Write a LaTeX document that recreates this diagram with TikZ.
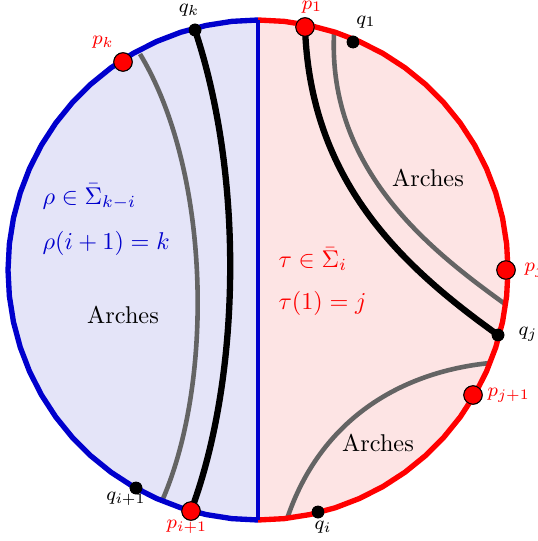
\documentclass[tikz,border=0pt]{standalone}
\usepackage{amsmath,amssymb}
\definecolor{myblue}{RGB}{0,0,205}
\definecolor{myred}{RGB}{255,0,0}
\definecolor{lblue}{RGB}{228,228,248}
\definecolor{lred}{RGB}{253,228,228}
\definecolor{mygray}{RGB}{100,100,100}
\begin{document}
\begin{tikzpicture}[x=0.4125pt,y=-0.4125pt,
  rim/.style={line width=2.2pt,line join=round},
  blackarc/.style={line width=2.6pt,black},
  grayarc/.style={line width=1.9pt,mygray},
  qdot/.style={circle,fill=black,inner sep=0pt,minimum size=5.2pt},
  pdot/.style={circle,fill=myred,draw=black,line width=0.4pt,inner sep=0pt,minimum size=7.6pt},
  plab/.style={text=myred,font=\footnotesize},
  qlab/.style={text=black,font=\footnotesize},
  arches/.style={font=\normalsize}]
\useasboundingbox (0,0) rectangle (537,541);
% fills
\fill[lblue] plot[domain=90:270,samples=31] ({258+250*cos(\x)},{270-250*sin(\x)}) -- cycle;
\fill[lred] plot[domain=-90:90,samples=31] ({258+250*cos(\x)},{270-250*sin(\x)}) -- cycle;
% points
\coordinate (top) at (258,20);
\coordinate (bot) at (258,520);
\node[pdot] (pk) at (123,62) {};
\node[qdot] (qk) at (195,30) {};
\node[pdot] (p1) at (305,27) {};
\node[qdot] (q1) at (353,42) {};
\node[pdot] (pj) at (506,270) {};
\node[qdot] (qj) at (498,335) {};
\node[pdot] (pj1) at (473,395) {};
\node[qdot] (qi) at (318,512) {};
\node[pdot] (pi1) at (191,511) {};
\node[qdot] (qi1) at (136,488) {};
\coordinate (g1a) at (140,54);
\coordinate (g1b) at (162,501);
\coordinate (g2a) at (334,34);
\coordinate (g2b) at (505,304);
\coordinate (g3a) at (287,519);
\coordinate (g3b) at (490,363);
% arcs
\draw[grayarc] (g1a) .. controls (210,170) and (215,380) .. (g1b);
\draw[blackarc] (qk.center) .. controls (245,180) and (240,380) .. (pi1.center);
\draw[grayarc] (g2a) .. controls (328,170) and (430,250) .. (g2b);
\draw[blackarc] (p1.center) .. controls (310,180) and (400,265) .. (qj.center);
\draw[grayarc] (g3a) .. controls (320,420) and (400,372) .. (g3b);
% rim
\draw[rim,myblue] plot[domain=90:270,samples=31] ({258+250*cos(\x)},{270-250*sin(\x)});
\draw[rim,myred] plot[domain=-90:90,samples=31] ({258+250*cos(\x)},{270-250*sin(\x)});
\draw[myblue,line width=1.8pt] (top) -- (bot);
% dots on top
\node[pdot] at (pk) {};
\node[qdot] at (qk) {};
\node[pdot] at (p1) {};
\node[qdot] at (q1) {};
\node[pdot] at (pj) {};
\node[qdot] at (qj) {};
\node[pdot] at (pj1) {};
\node[qdot] at (qi) {};
\node[pdot] at (pi1) {};
\node[qdot] at (qi1) {};
% labels
\node[plab] (lpk) at (103,42) {$p_k$};
\node[qlab] (lqk) at (189,10) {$q_k$};
\node[plab] (lp1) at (312,7) {$p_1$};
\node[qlab] (lq1) at (366,22) {$q_1$};
\node[plab,anchor=west] (lpj) at (516,270) {$p_j$};
\node[qlab,anchor=west] (lqj) at (510,334) {$q_j$};
\node[plab,anchor=west] (lpj1) at (479,395) {$p_{j+1}$};
\node[qlab] (lqi) at (323,527) {$q_i$};
\node[plab] (lpi1) at (187,527) {$p_{i+1}$};
\node[qlab] (lqi1) at (126,499) {$q_{i+1}$};
\node[arches] (a1) at (428,178) {Arches};
\node[arches] (a2) at (123,315) {Arches};
\node[arches] (a3) at (378,443) {Arches};
\node[text=myblue,anchor=west] (rho1) at (34,197) {$\rho\in\bar{\Sigma}_{k-i}$};
\node[text=myblue,anchor=west] (rho2) at (34,243) {$\rho(i+1)=k$};
\node[text=myred,anchor=west] (tau1) at (270,259) {$\tau\in\bar{\Sigma}_{i}$};
\node[text=myred,anchor=west] (tau2) at (270,303) {$\tau(1)=j$};
\end{tikzpicture}
\end{document}
